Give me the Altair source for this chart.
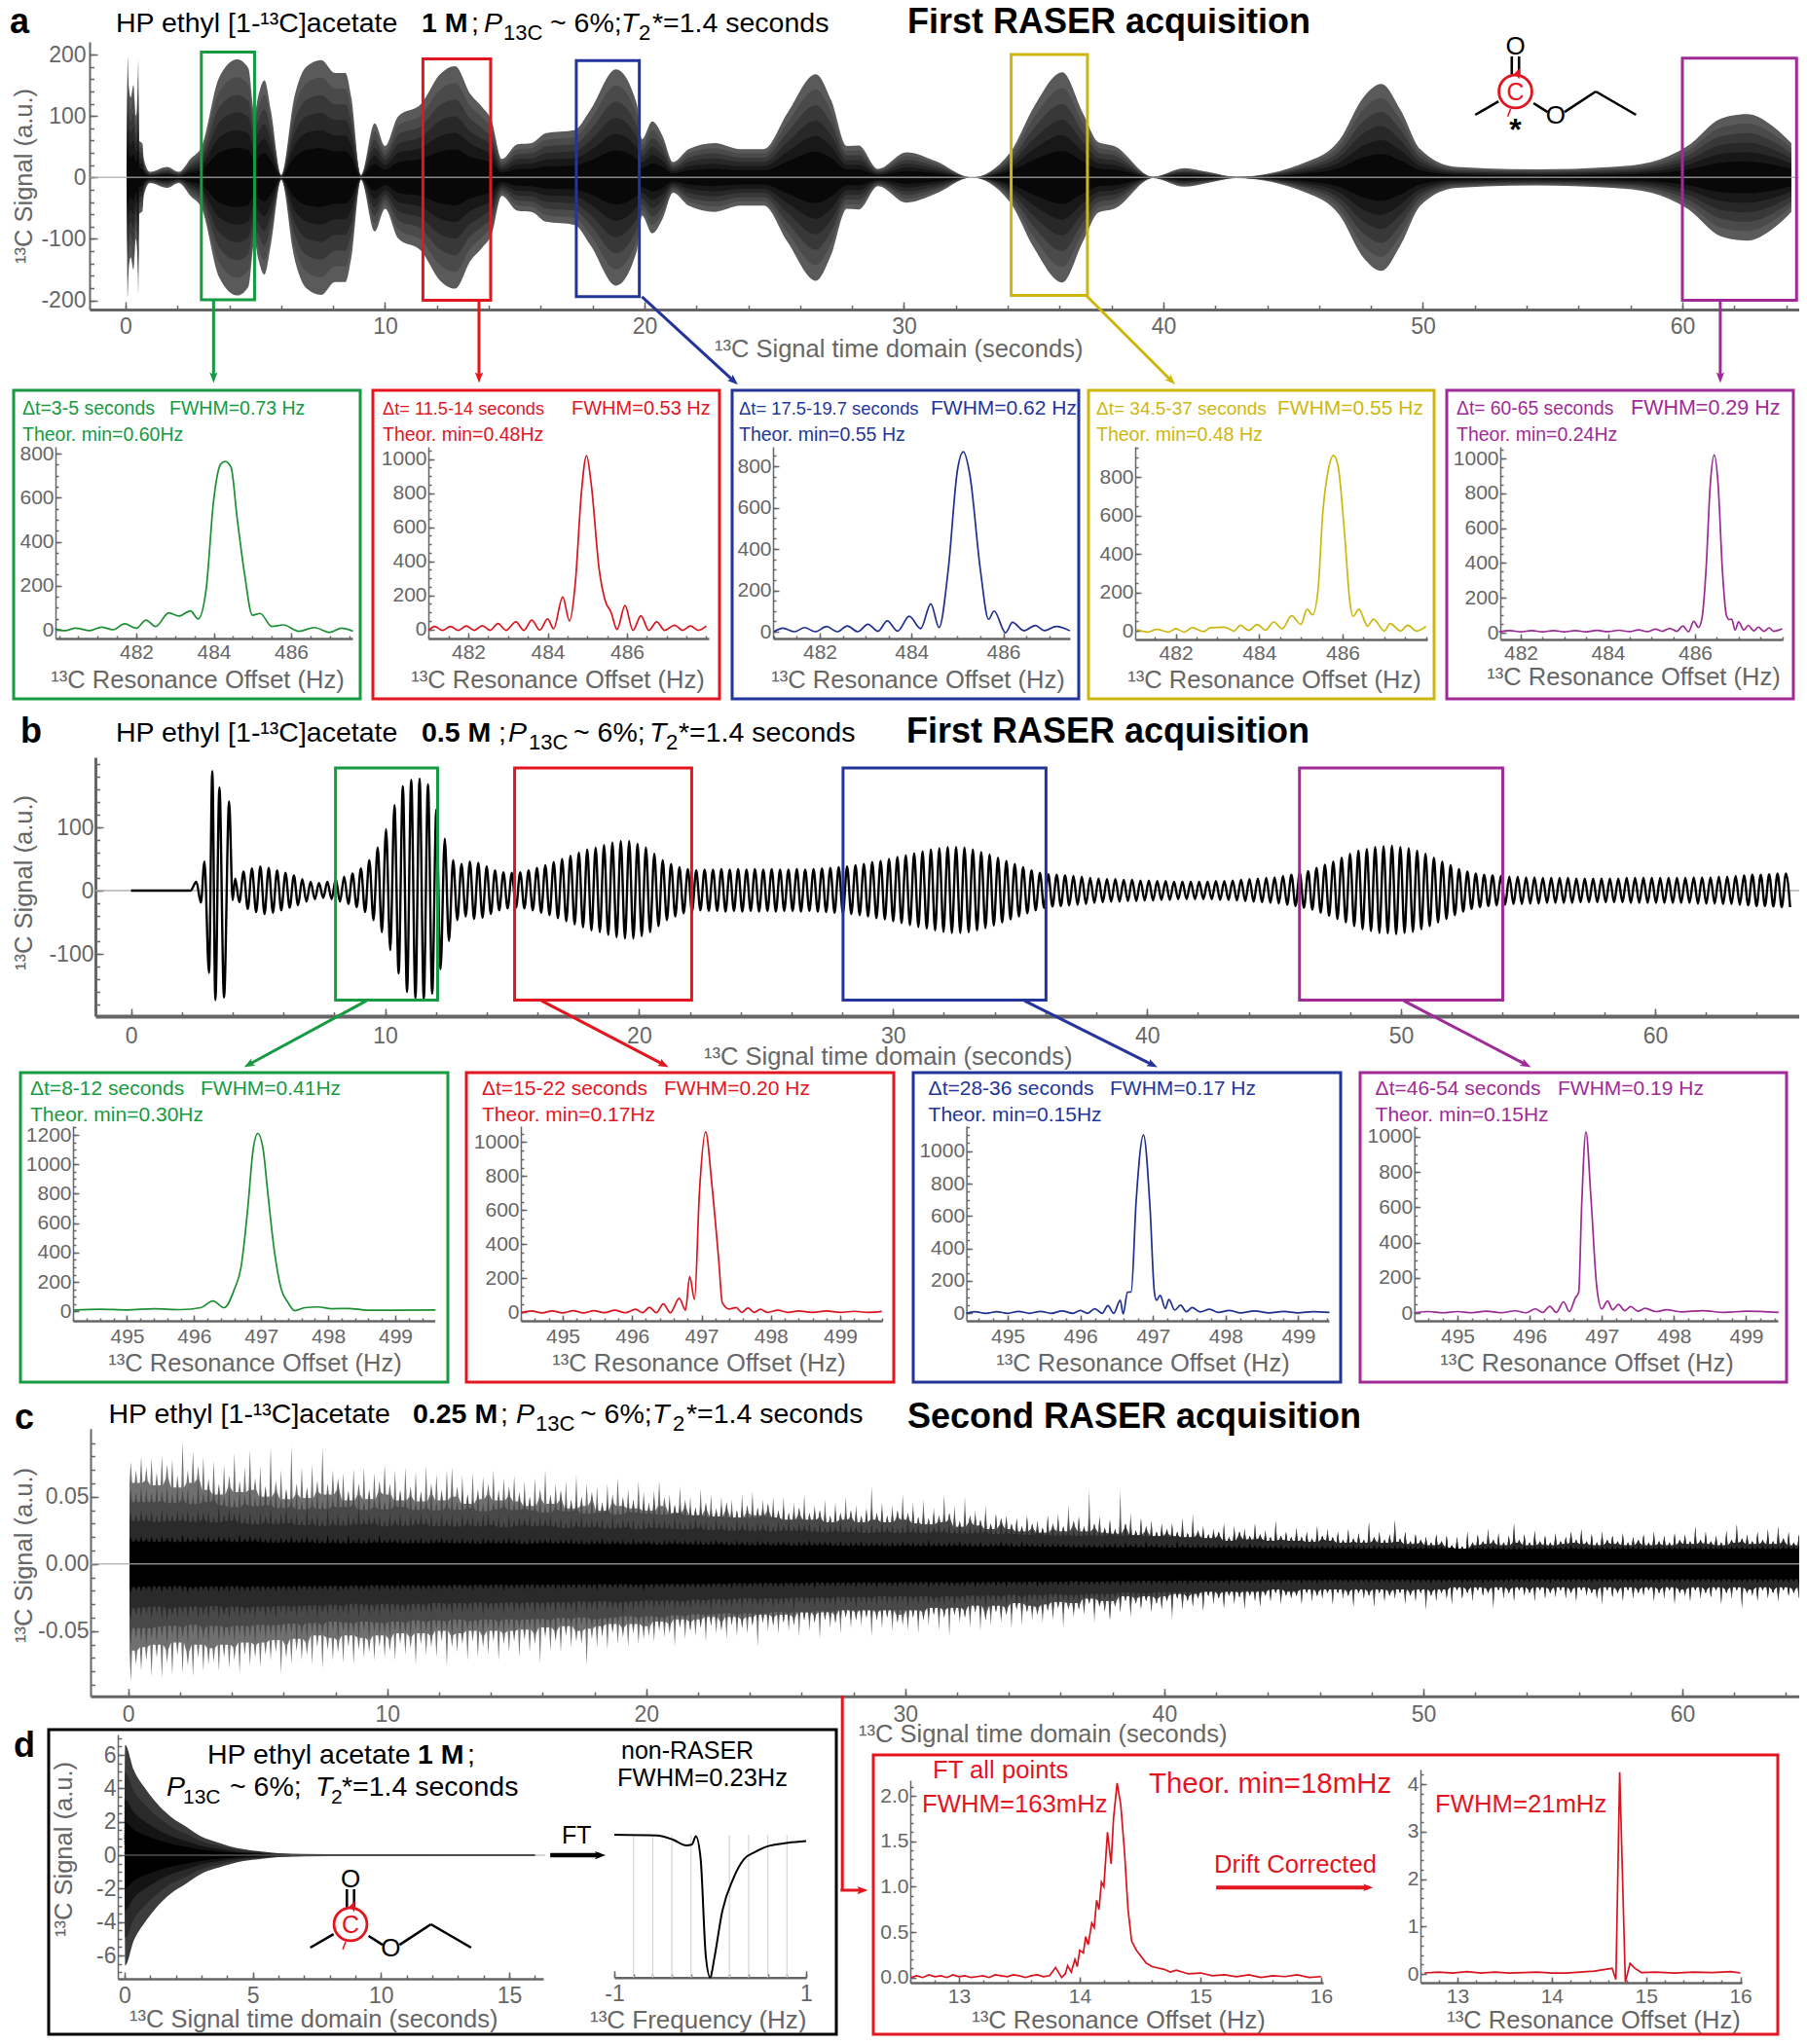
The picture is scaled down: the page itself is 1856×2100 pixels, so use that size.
import math
import altair as alt
import numpy as np
import pandas as pd

W, H, M = 1840, 2084, 8
FONT = "Liberation Sans"
GRAY = "#666666"
GREEN, RED, BLUE, YELLOW, PURPLE = "#169a42", "#e3151f", "#23359a", "#cdb70f", "#a02a98"

# ---------- panel a: envelope of the time-domain signal ----------
a_t = [0.05,0.08,0.12,0.2,0.3,0.4,0.47,0.49,0.52,0.65,0.7,0.94,1.6,2.05,2.5,2.94,3.6,4.3,4.73,4.97,5.1,5.35,5.6,6.0,6.5,6.96,7.54,8.07,8.47,8.7,9.07,9.6,10,10.5,11.4,12.1,12.7,13.3,13.75,14.1,14.5,15.1,15.65,16.2,17.3,17.9,18.9,19.7,19.9,20.3,20.7,21.1,21.7,22.7,23.7,24.6,25.5,26.6,27.2,27.8,28.25,29,30.1,31.2,32.6,34.1,35,36.1,36.9,37.5,38.1,39.6,40.8,41.7,42.8,45.5,46.8,47.7,48.4,49.15,49.9,51.3,54.4,57.3,58.8,60.2,61.5,62.5,63.5,64.2]
a_amp = [0,195,150,130,150,100,150,190,60,55,30,9,17,9,30,51,162,192,178,104,130,158,109,4,130,180,191,170,170,130,4,88,51,99,120,167,181,135,114,93,30,54,56,72,77,109,176,120,62,91,67,25,46,56,46,46,104,168,125,51,52,14,41,27,0,41,114,171,104,57,51,1,15,9,1,25,62,130,152,109,46,17,13,17,25,51,96,103,83,56]
a_boxes = [(2.92,4.97,204,-199,GREEN),(11.46,14.07,193,-200,RED),(17.37,19.8,190,-194,BLUE),(34.13,37.07,200,-192,YELLOW),(60,64.4,194,-200,PURPLE)]

# ---------- panel a insets ----------
ag_hz = [479.9,480.16,480.43,480.8,481.1,481.4,481.7,482,482.25,482.5,482.84,483.1,483.4,483.6,483.8,484,484.18,484.3,484.45,484.6,484.8,485,485.2,485.5,485.8,486.2,486.6,487,487.3,487.6]
ag_v = [4,-4,7,-4,12,0,27,7,44,15,77,62,86,49,177,590,752,764,737,516,250,66,74,15,22,-7,10,-12,7,-7]
ar_hz = [481,481.15,481.35,481.55,481.75,481.95,482.15,482.35,482.55,482.75,482.95,483.2,483.4,483.6,483.8,484,484.15,484.38,484.55,484.7,484.85,484.98,485.1,485.3,485.45,485.6,485.75,485.95,486.15,486.35,486.55,486.75,486.95,487.2,487.4,487.6,487.8,488]
ar_v = [-5,18,-5,18,-5,20,-5,22,-5,35,-5,45,-5,55,-3,62,5,190,50,280,800,1020,850,350,170,100,0,140,-5,80,-5,45,-5,25,-5,20,-5,20]
ab_hz = [481,481.2,481.45,481.67,481.9,482.15,482.38,482.6,482.83,483.05,483.27,483.47,483.7,483.95,484.2,484.42,484.6,484.8,485,485.13,485.27,485.5,485.68,485.8,486.05,486.2,486.45,486.7,486.9,487.15,487.45]
ab_v = [0,17,0,20,0,25,0,28,0,36,2,52,3,75,15,135,20,300,780,870,760,300,60,100,-5,45,5,30,5,25,5]
ay_hz = [481.06,481.33,481.55,481.83,482,482.2,482.4,482.67,482.83,483.17,483.4,483.55,483.75,483.95,484.15,484.35,484.55,484.78,485,485.15,485.28,485.41,485.52,485.67,485.78,485.89,486.05,486.17,486.25,486.39,486.6,486.74,487,487.14,487.39,487.56,487.78,488]
ay_v = [8,-5,8,-5,12,-5,17,-3,17,20,0,30,3,34,5,47,12,79,34,113,84,210,598,850,912,858,497,160,76,113,25,62,0,39,0,30,0,25]
ap_hz = [481.5,481.75,482,482.25,482.5,482.75,483,483.25,483.5,483.75,484,484.25,484.5,484.7,484.9,485.1,485.25,485.42,485.58,485.72,485.85,485.97,486.08,486.16,486.25,486.35,486.44,486.53,486.63,486.72,486.78,486.84,486.92,487,487.12,487.22,487.35,487.45,487.58,487.7,487.8,488]
ap_v = [5,12,5,12,5,12,5,12,5,13,6,14,6,16,6,20,8,25,8,38,5,65,30,84,350,850,1020,850,350,100,75,78,15,62,15,42,10,32,8,28,8,22]

# ---------- panel b: burst then one peak amplitude per cycle ----------
b_head_t = [0,2.2,2.34,2.57,2.75,2.89,3.07,3.2,3.32,3.48,3.66,3.86,4.0]
b_head_v = [0,0,0,14,-19,46,-130,189,-173,163,-169,141,-15]
b_cycle = [19,30,35,38,36,32,28,24,18,14,12,14,18,
           22,27,35,48,68,97,135,165,175,177,168,128,82,
           48,42,46,44,38,32,29,28,29,32,36,40,45,50,55,60,65,68,72,76,78,78,74,68,58,48,42,37,34,32,
           33,33,34,33,34,33,34,33,34,33,33,34,33,34,35,36,
           37,38,40,42,45,47,50,53,56,59,62,65,67,69,
           69,68,65,61,57,52,47,42,37,32,28,
           26,25,24,23,22,20,19,
           18,18,17,17,16,16,15,15,14,14,14,14,
           14,15,15,16,17,18,19,20,21,23,25,28,
           31,36,41,46,52,58,63,66,69,70,71,
           69,67,63,58,52,46,40,34,30,27,
           25,24,23,22,22,21,21,20,20,20,20,19,19,19,19,19,19,20,20,20,20,20,20,20,20,21,21,21,22,22,23,24,25,25,26,27,27]
b_boxes = [(8.05,12.07,GREEN),(15.1,22.07,RED),(28.03,36.02,BLUE),(46,54,PURPLE)]

# ---------- panel b insets ----------
bg_hz = [494.2,494.6,495,495.4,495.8,496.1,496.28,496.45,496.6,496.7,496.8,496.88,496.95,497.03,497.1,497.2,497.3,497.4,497.5,497.65,497.85,498.05,498.3,498.6,499,499.6]
bg_v = [8,15,10,18,12,25,70,25,150,300,700,1100,1210,1100,800,400,150,60,5,25,30,18,20,8,8,10]
br_hz = [494.4,494.55,494.7,494.85,495,495.15,495.3,495.45,495.6,495.75,495.9,496.05,496.15,496.25,496.35,496.45,496.55,496.68,496.77,496.83,496.9,496.97,497.06,497.15,497.25,497.3,497.4,497.5,497.58,497.67,497.76,497.85,497.95,498.1,498.25,498.4,498.6,498.8,499,499.2,499.4,499.6]
br_v = [-3,8,-3,8,-3,10,-3,10,-2,12,-2,18,-2,30,-2,50,-2,82,13,210,76,700,1060,750,300,57,20,28,0,25,0,18,0,12,0,8,0,8,0,6,0,5]
bb_hz = [494.43,494.55,494.7,494.85,495,495.15,495.3,495.45,495.6,495.75,495.9,496,496.1,496.2,496.3,496.38,496.46,496.55,496.59,496.65,496.7,496.77,496.87,496.96,497.02,497.05,497.1,497.17,497.22,497.3,497.38,497.46,497.54,497.65,497.78,497.9,498.05,498.2,498.4,498.6,498.8,499,499.2,499.43]
bb_v = [0,10,0,10,0,12,0,12,0,14,0,18,0,28,0,48,0,80,-4,130,132,700,1100,650,130,80,110,30,85,20,50,10,35,8,25,5,18,3,14,3,12,3,10,5]
bp_hz = [494.4,494.6,494.8,495,495.2,495.4,495.6,495.8,495.95,496.08,496.18,496.28,496.37,496.47,496.55,496.63,496.68,496.72,496.78,496.85,496.93,497,497.08,497.15,497.23,497.32,497.4,497.5,497.6,497.75,497.9,498.1,498.4,498.7,499,499.45]
bp_v = [3,10,3,10,3,12,3,14,3,25,5,40,5,65,10,85,120,600,1027,650,150,25,70,20,50,15,38,12,28,10,20,8,15,5,12,5]

# ---------- panel c: jagged upper and lower edge, in thousandths, one per 0.2 s ----------
c_upper = [76,70,80,72,79,68,81,74,78,66,92,70,84,73,80,64,77,60,74,66,83,62,72,85,64,
73,58,87,62,70,56,88,60,72,57,74,62,87,60,70,64,68,55,71,60,72,56,68,62,74,
60,70,55,72,58,69,54,73,60,67,55,70,72,58,66,52,68,56,65,60,70,55,64,58,66,
54,62,50,64,56,70,52,60,55,62,48,66,50,60,54,58,46,60,52,64,50,56,48,62,54,
46,55,62,50,52,44,58,48,50,42,56,46,52,41,50,46,48,40,52,44,54,42,48,45,50,
40,50,38,46,42,52,38,44,40,48,36,46,38,50,40,44,36,42,58,38,46,36,44,40,52,
38,46,35,48,34,42,36,52,38,44,32,50,36,40,33,44,30,38,34,36,30,34,28,36,30,
32,27,36,30,38,28,44,32,36,28,55,30,36,27,33,26,55,30,38,25,34,28,32,24,30,
26,30,24,34,23,38,25,28,22,26,24,30,20,28,24,26,21,30,22,25,20,32,21,24,20,
27,20,24,19,28,21,26,20,24,18,26,19,23,18,32,20,24,18,22,33,19,24,17,22,18,
20,16,22,17,21,14,20,13,24,16,22,17,26,18,23,16,21,30,18,22,16,25,17,21,16,
23,17,20,24,18,26,17,22,16,24,18,21,17,23,16,20,18,22,16,24,17,21,16,23,18,
22,17,28,18,24,17,21,16,25,18,30,19,22,17,24,18,26,17,28,19,24,16,22,17,19]
c_lower = [88,75,80,72,84,70,85,74,83,68,82,76,84,70,80,75,73,80,70,78,72,82,68,76,70,
77,68,72,66,82,70,75,65,72,68,75,62,78,64,72,66,74,62,75,64,70,66,72,62,70,
65,72,60,68,63,75,60,68,62,70,58,76,62,66,60,72,58,70,62,68,58,72,60,66,58,
70,57,66,60,74,55,65,58,66,54,62,58,60,76,56,62,54,64,52,60,55,62,52,60,56,
54,58,50,55,52,62,48,56,50,54,48,58,46,52,50,56,46,54,48,52,46,62,44,50,46,
52,44,50,46,54,42,50,44,56,42,48,44,52,40,48,42,46,40,54,42,48,40,50,44,46,
50,40,52,42,46,38,50,40,54,38,44,40,48,36,50,42,46,36,44,38,48,34,46,36,42,
38,44,35,42,33,48,34,40,34,38,30,44,32,36,42,32,36,28,40,30,34,28,36,30,34,
28,42,26,34,28,32,26,36,24,30,26,33,24,30,25,34,24,28,32,24,28,22,30,24,26,
24,30,22,28,24,26,22,30,22,26,24,32,22,26,24,32,22,28,24,26,22,30,24,28,22,
35,24,28,22,26,30,20,26,22,28,20,24,22,34,20,26,22,28,20,24,22,28,20,26,22,
25,20,26,22,28,20,24,22,26,30,20,25,22,28,20,26,22,24,20,28,22,26,20,30,22,
24,28,20,26,22,25,20,30,22,26,20,34,22,24,28,20,26,22,28,20,24,22,26,20,30]

# ---------- panel d ----------
d_t = [0.0,0.02,0.36,0.8,1.2,1.8,2.4,3,3.7,4.4,5.2,6,7,9,11,13,16]
d_env = [0,6.6,5.1,4,3.2,2.3,1.7,1.1,0.73,0.42,0.25,0.12,0.07,0.06,0.06,0.05,0.05]
ft_hz = [-1,-0.56,-0.39,-0.25,-0.19,-0.15,-0.1,-0.046,0,0.04,0.126,0.24,0.354,0.469,0.583,0.811,1]
ft_v = [1,0.995,0.966,0.925,0.932,0.989,0.83,0.148,0,0.125,0.466,0.693,0.83,0.88,0.916,0.943,0.955]
ft_grid = [-0.8,-0.6,-0.4,-0.2,0.2,0.4,0.6,0.8]
s1_hz = [12.6,12.65,12.7,12.75,12.8,12.85,12.9,12.95,13,13.05,13.1,13.15,13.2,13.25,13.3,13.35,13.4,13.45,13.5,13.55,13.6,13.65,13.7,13.75,13.8,13.85,13.88,13.9,13.93,13.96,13.98,14.0,14.03,14.05,14.07,14.1,14.12,14.14,14.16,14.18,14.2,14.23,14.26,14.28,14.31,14.34,14.37,14.4,14.43,14.47,14.55,14.6,14.7,14.75,14.8,14.9,15,15.1,15.2,15.3,15.4,15.5,15.6,15.7,15.8,15.9,16]
s1_v = [0,.02,0,.03,.01,.02,0,.03,.01,.02,0,.01,.02,0,.03,.02,.01,.03,.02,0,.02,.03,.01,.02,.11,0,.04,.13,.06,.2,.12,.3,.27,.45,.36,.6,.55,.85,.75,1.05,1.0,1.6,1.25,1.75,2.14,1.9,1.4,.75,.4,.3,.16,.12,.09,.06,.08,.04,.05,.02,.03,.01,.03,.0,.02,.01,.03,.0,.01]
s2_hz = [12.65,12.8,12.95,13.1,13.25,13.4,13.55,13.7,13.85,14,14.15,14.3,14.45,14.55,14.64,14.68,14.72,14.78,14.83,14.88,14.95,15.1,15.3,15.5,15.7,15.9,16]
s2_v = [.02,.04,.02,.05,.02,.04,.02,.03,.04,.02,.02,.04,.06,.09,.12,-.12,4.25,-.17,.22,.12,.03,.04,.02,.04,.03,.05,.02]
mol_bonds = [(-1,-1,-0.42,-0.42),(0.45,-0.5,0.8,-0.88),(1.22,-0.88,2,0),(2,0,3,-1),(-0.09,0.72,-0.09,1.5),(0.09,0.72,0.09,1.5)]

layers = []


def text(s, x, y, size=25, color="black", weight="normal", style="normal", align="left", angle=0):
    kw = dict(text=s, font=FONT, fontSize=size, color=color, fontWeight=weight, fontStyle=style,
              align=align, baseline="alphabetic")
    if angle:
        kw["angle"] = angle
    layers.append(alt.Chart(pd.DataFrame({"k": [0]})).mark_text(**kw).encode(
        x=alt.value(x - M), y=alt.value(y - M)))


class Panel:
    def __init__(self, xcal, xspan, ycal, yspan):
        self.xk = (xcal[3] - xcal[1]) / (xcal[2] - xcal[0])
        self.xv0, self.xp0 = xcal[0], xcal[1]
        self.yk = (ycal[3] - ycal[1]) / (ycal[2] - ycal[0])
        self.yv0, self.yp0 = ycal[0], ycal[1]
        self.xspan, self.yspan = xspan, yspan
        self.xdom = [self.xval(xspan[0]), self.xval(xspan[1])]
        self.ydom = [self.yval(yspan[0]), self.yval(yspan[1])]
        self.sx = alt.Scale(domain=self.xdom, range=[xspan[0] - M, xspan[1] - M], nice=False, zero=False)
        self.sy = alt.Scale(domain=self.ydom, range=[yspan[0] - M, yspan[1] - M], nice=False, zero=False)

    def xval(self, p): return self.xv0 + (p - self.xp0) / self.xk
    def yval(self, p): return self.yv0 + (p - self.yp0) / self.yk
    def xpx(self, v): return self.xp0 + (v - self.xv0) * self.xk
    def ypx(self, v): return self.yp0 + (v - self.yv0) * self.yk

    def X(self, f="x", axis=None): return alt.X(f"{f}:Q", scale=self.sx, axis=axis)
    def Y(self, f="y", axis=None): return alt.Y(f"{f}:Q", scale=self.sy, axis=axis)

    def line(self, xs, ys, color, width=1.6, interp="monotone"):
        df = pd.DataFrame({"x": xs, "y": ys, "o": range(len(xs))})
        layers.append(alt.Chart(df).mark_line(color=color, strokeWidth=width, interpolate=interp)
                      .encode(x=self.X(), y=self.Y(), order="o:Q"))

    def area(self, xs, lo, hi, color, interp="linear"):
        df = pd.DataFrame({"x": xs, "y": lo, "y2": hi})
        layers.append(alt.Chart(df).mark_area(color=color, opacity=1, interpolate=interp)
                      .encode(x=self.X(), y=self.Y(), y2=alt.Y2("y2:Q")))

    def seg(self, x0, y0, x1, y1, color, width=3, opacity=1.0):
        df = pd.DataFrame({"x": [x0], "y": [y0], "x2": [x1], "y2": [y1]})
        layers.append(alt.Chart(df).mark_rule(color=color, strokeWidth=width, opacity=opacity)
                      .encode(x=self.X(), y=self.Y(), x2=alt.X2("x2:Q"), y2=alt.Y2("y2:Q")))

    def rect(self, x0, x1, y0, y1, color, width=3):
        df = pd.DataFrame({"x": [x0], "y": [y0], "x2": [x1], "y2": [y1]})
        layers.append(alt.Chart(df).mark_rect(fillOpacity=0, stroke=color, strokeWidth=width)
                      .encode(x=self.X(), y=self.Y(), x2=alt.X2("x2:Q"), y2=alt.Y2("y2:Q")))

    def arrow(self, x0, y0, x1, y1, color, width=3, head=10):
        px0, py0, px1, py1 = self.xpx(x0), self.ypx(y0), self.xpx(x1), self.ypx(y1)
        d = math.hypot(px1 - px0, py1 - py0)
        ux, uy = (px1 - px0) / d, (py1 - py0) / d
        cx, cy = px1 - ux * head, py1 - uy * head
        self.seg(x0, y0, self.xval(cx), self.yval(cy), color, width)
        ang = (math.degrees(math.atan2(ux, -uy)) + 360) % 360
        df = pd.DataFrame({"x": [self.xval(cx)], "y": [self.yval(cy)]})
        layers.append(alt.Chart(df).mark_point(
            shape="M0,-1L0.75,1L0,0.6L-0.75,1Z", filled=True, color=color, opacity=1,
            size=head * head, angle=ang).encode(x=self.X(), y=self.Y()))

    def axes(self, xt, xm, yt, ym, fs=22, dw=2, xpad=8, ypad=4, fmt="d", majlen=8, minlen=4.5):
        bot = self.yspan[0] - M
        left = self.xspan[0] - M
        common = dict(labelFont=FONT, labelFontSize=fs, labelColor=GRAY, grid=False, title=None,
                      labelOverlap=False, labelBound=False, labelFlush=False,
                      labelExpr="replace(datum.label,'\u2212','-')")
        ax = alt.Axis(orient="bottom", offset=bot - (H), values=xt, ticks=False, domainColor=GRAY,
                      domainWidth=dw, labelPadding=xpad, format="d", **common)
        if yt is None:
            ay = None
        else:
            ay = alt.Axis(orient="left", offset=-left, values=yt, ticks=False, domainColor=GRAY,
                          domainWidth=max(1.5, dw - 1), labelPadding=ypad, format=fmt, **common)
        dummy = pd.DataFrame({"x": [self.xdom[0]], "y": [self.ydom[0]]})
        layers.append(alt.Chart(dummy).mark_point(opacity=0).encode(x=self.X(axis=ax), y=self.Y(axis=ay)))
        for vx, vy, n in ((xt, yt, majlen), (xm, ym, minlen)):
            tick = dict(labels=False, domain=False, title=None, grid=False, tickColor=GRAY, tickWidth=1.5, tickSize=n)
            tx = alt.Axis(orient="top", offset=-bot, values=vx, **tick)
            ty = None if (yt is None) else alt.Axis(orient="right", offset=left - W, values=vy, **tick)
            layers.append(alt.Chart(dummy).mark_point(opacity=0).encode(x=self.X(axis=tx), y=self.Y(axis=ty)))


def frange(a, b, s):
    n = int(round((b - a) / s))
    return [round(a + i * s, 4) for i in range(n + 1)]


def molecule(cx, cy, star=False):
    p = Panel((0, cx, 1, cx + 41.3), (cx - 80, cx + 160), (0, cy, 1, cy - 24), (cy + 50, cy - 70))
    for b in mol_bonds:
        p.seg(b[0], b[1], b[2], b[3], "black", 2.6)
    for (x, y) in ((0, 1.95), (1, -1)):
        text("O", p.xpx(x), p.ypx(y) + 9, 26, "black", align="center")
    df = pd.DataFrame({"x": [0], "y": [0]})
    layers.append(alt.Chart(df).mark_point(shape="circle", size=1150, color=RED, strokeWidth=2.8, filled=False, opacity=1)
                  .encode(x=p.X(), y=p.Y()))
    text("C", cx, cy + 9, 25, RED, align="center")
    p.seg(-0.19, -1.07, -0.12, -0.75, RED, 1.6)
    p.arrow(0.06, 0.8, 0.17, 1.22, RED, 1.6, 11)
    if star:
        text("*", cx, cy + 50, 32, "black", "bold", align="center")


def title_row(letter, lx, ly, y, segs, sub_y, heading, hx, hy):
    text(letter, lx, ly, 36, "black", "bold")
    for (s, x, kind) in segs:
        if kind == "n":
            text(s, x, y, 28.5)
        elif kind == "b":
            text(s, x, y, 28.5, weight="bold")
        elif kind == "i":
            text(s, x, y, 28.5, style="italic")
        else:
            text(s, x, sub_y, 22)
    text(heading, hx, hy, 36, "black", "bold")


def spikes(ts, vals):
    # each read value becomes a narrow spike standing on the lower of its neighbours
    out_t, out_v = [], []
    for i, v in enumerate(vals):
        near = min(vals[max(i - 1, 0)], vals[min(i + 1, len(vals) - 1)], v)
        out_t += [ts[i] - 0.05, ts[i], ts[i] + 0.05]
        out_v += [near * 0.86, v, near * 0.86]
    return out_t, out_v


YT = "\u00b9\u00b3C Signal (a.u.)"
TD = "\u00b9\u00b3C Signal time domain (seconds)"
RO = "\u00b9\u00b3C Resonance Offset (Hz)"

# ================= PANEL A =================
title_row("a", 10, 34, 33,
          [("HP ethyl [1-\u00b9\u00b3C]acetate", 119, "n"), ("1 M", 433, "b"), (";", 484, "n"), ("P", 497, "i"), ("13C", 517, "s"),
           ("~ 6%;", 565, "n"), ("T", 638, "i"), ("2", 656, "s"), ("*=1.4 seconds", 670, "n")], 41,
          "First RASER acquisition", 932, 34)
pa = Panel((0, 129, 60, 1728), (92, 1856), (0, 182.3, 200, 56), (318, 43))
a_arr = np.array(a_amp, float)
for frac, col in ((1.0, "#5a5a5a"), (0.85, "#4a4a4a"), (0.7, "#383838"), (0.55, "#282828"), (0.4, "#181818"), (0.25, "#080808")):
    pa.area(a_t, list(-a_arr * frac), list(a_arr * frac), col, "monotone")
pa.seg(pa.xdom[0], 0, pa.xdom[1], 0, "#aaaaaa", 1.5, 0.8)
pa.axes(frange(0, 60, 10), frange(0, 64, 2), frange(-200, 200, 100), frange(-200, 200, 20), fs=23, dw=3, xpad=6)
for (x0, x1, y0, y1, c) in a_boxes:
    pa.rect(x0, x1, y0, y1, c, 3)
ya = pa.yval(399)
pa.arrow(3.39, -199, 3.39, ya, GREEN, 3, 11)
pa.arrow(13.62, -200, 13.62, ya, RED, 3, 11)
pa.arrow(19.9, -194, 23.75, ya, BLUE, 3, 11)
pa.arrow(37.02, -192, 40.6, ya, YELLOW, 3, 11)
pa.arrow(61.46, -200, 61.46, ya, PURPLE, 3, 11)
text(YT, 33, 181, 25.5, GRAY, align="center", angle=270)
text(TD, 734, 367, 25.5, GRAY)
molecule(1556.5, 94, star=True)

a_ins = [
    (GREEN, "#1c8f34", 14, 370, (482, 140, 486, 299), (57, 362), (0, 647, 800, 466), (656, 459), [0, 200, 400, 600, 800], ag_hz, ag_v,
     "\u0394t=3-5 seconds", 23, 19.5, "FWHM=0.73 Hz", 174, 19.5, "Theor. min=0.60Hz", 203, 707),
    (RED, "#d8141f", 383, 739, (482, 481, 486, 644), (440, 728), (0, 646.7, 1000, 471.7), (656, 459), [0, 200, 400, 600, 800, 1000], ar_hz, ar_v,
     "\u0394t= 11.5-14 seconds", 393, 18.2, "FWHM=0.53 Hz", 587, 20, "Theor. min=0.48Hz", 573, 707),
    (BLUE, "#1f2f8e", 752, 1108, (482, 842, 486, 1030.5), (794, 1099), (0, 649, 800, 479), (656, 459), [0, 200, 400, 600, 800], ab_hz, ab_v,
     "\u0394t= 17.5-19.7 seconds", 759, 18.4, "FWHM=0.62 Hz", 956, 21, "Theor. min=0.55 Hz", 943, 707),
    (YELLOW, "#cdb70f", 1118, 1473, (482, 1207.6, 486, 1379), (1166, 1466), (0, 648.3, 800, 490), (657, 459), [0, 200, 400, 600, 800], ay_hz, ay_v,
     "\u0394t= 34.5-37 seconds", 1126, 19, "FWHM=0.55 Hz", 1312, 21, "Theor. min=0.48 Hz", 1309, 707),
    (PURPLE, "#9b2a93", 1486, 1842, (482, 1562, 486, 1741), (1541, 1831), (0, 650, 1000, 471), (657, 459), [0, 200, 400, 600, 800, 1000], ap_hz, ap_v,
     "\u0394t= 60-65 seconds", 1496, 19.3, "FWHM=0.29 Hz", 1675, 21.5, "Theor. min=0.24Hz", 1678, 704),
]
for (bc, lc, bx0, bx1, xc, xs, yc, ys, yt, hz, v, t1, t1x, t1s, t2, t2x, t2s, t3, lx, ly) in a_ins:
    frame = Panel((0, bx0, 1, bx1), (bx0, bx1), (0, 718, 1, 401), (718, 401))
    frame.rect(0, 1, 0, 1, bc, 3)
    p = Panel(xc, xs, yc, ys)
    p.axes([482, 484, 486], [v_ for v_ in frange(480, 488, 0.5) if p.xdom[0] <= v_ <= p.xdom[1]],
           yt, [v_ for v_ in frange(0, 1050, 50) if v_ <= p.ydom[1]], fs=21, dw=2.5, xpad=3, ypad=2, majlen=6, minlen=3)
    p.line(hz, v, lc, 1.7)
    text(t1, t1x, 426, t1s, bc)
    text(t2, t2x, 426, t2s, bc)
    text(t3, t1x, 453, 19.5, bc)
    text(RO, lx, ly, 25.5, GRAY, align="center")

# ================= PANEL B =================
title_row("b", 21, 763, 762,
          [("HP ethyl [1-\u00b9\u00b3C]acetate", 119, "n"), ("0.5 M", 433, "b"), (";", 512, "n"), ("P", 522, "i"), ("13C", 543, "s"),
           ("~ 6%;", 589, "n"), ("T", 667, "i"), ("2", 684, "s"), ("*=1.4 seconds", 697, "n")], 770,
          "First RASER acquisition", 931, 763)
pb = Panel((0, 134.6, 60, 1700), (98, 1856), (0, 915, 100, 850), (1044, 778))
pb.seg(pb.xdom[0], 0, pb.xdom[1], 0, "#aaaaaa", 1.5, 0.9)
bt, bv = list(b_head_t), list(b_head_v)
t_i = 4.1
for amp in b_cycle:
    bt += [round(t_i, 3), round(t_i + 0.165, 3)]
    bv += [amp, -amp * 0.97]
    t_i += 0.33
pb.line(bt, bv, "black", 2.4)
pb.axes(frange(0, 60, 10), frange(0, 64, 2), [-100, 0, 100], frange(-180, 200, 20), fs=23, dw=4, xpad=9, ypad=2)
for (x0, x1, c) in b_boxes:
    pb.rect(x0, x1, 194, -173, c, 3)
yb = pb.yval(1099)
pb.arrow(9.27, -174, 4.26, yb, GREEN, 3, 11)
pb.arrow(16.16, -174, 21.35, yb, RED, 3, 11)
pb.arrow(35.17, -174, 40.6, yb, BLUE, 3, 11)
pb.arrow(50.1, -174, 55.3, yb, PURPLE, 3, 11)
text(YT, 33, 907, 25.5, GRAY, align="center", angle=270)
text(TD, 723, 1094, 25.5, GRAY)

b_ins = [
    (GREEN, "#1c8f34", 21, 460, (495, 130.5, 499, 406), (75, 446.6), (0, 1347.3, 1200, 1166), [0, 200, 400, 600, 800, 1000, 1200], bg_hz, bg_v,
     "\u0394t=8-12 seconds", 31, "FWHM=0.41Hz", 206, "Theor. min=0.30Hz", 262),
    (RED, "#d8141f", 479, 918, (495, 578, 499, 863), (535, 906), (0, 1348.3, 1000, 1173.3), [0, 200, 400, 600, 800, 1000], br_hz, br_v,
     "\u0394t=15-22 seconds", 495, "FWHM=0.20 Hz", 682, "Theor. min=0.17Hz", 718),
    (BLUE, "#1f2f8e", 938, 1377, (495, 1035, 499, 1333.4), (992.6, 1365), (0, 1349.3, 1000, 1182.7), [0, 200, 400, 600, 800, 1000], bb_hz, bb_v,
     "\u0394t=28-36 seconds", 953.6, "FWHM=0.17 Hz", 1140, "Theor. min=0.15Hz", 1174),
    (PURPLE, "#9b2a93", 1397, 1835, (495, 1497, 499, 1793.5), (1452.7, 1826), (0, 1349.3, 1000, 1167.7), [0, 200, 400, 600, 800, 1000], bp_hz, bp_v,
     "\u0394t=46-54 seconds", 1412.6, "FWHM=0.19 Hz", 1600, "Theor. min=0.15Hz", 1630),
]
for (bc, lc, bx0, bx1, xc, xs, yc, yt, hz, v, t1, t1x, t2, t2x, t3, lx) in b_ins:
    frame = Panel((0, bx0, 1, bx1), (bx0, bx1), (0, 1420, 1, 1102), (1420, 1102))
    frame.rect(0, 1, 0, 1, bc, 3)
    p = Panel(xc, xs, yc, (1357, 1157))
    p.axes([495, 496, 497, 498, 499], [v_ for v_ in frange(494, 500, 0.2) if p.xdom[0] <= v_ <= p.xdom[1]],
           yt, [v_ for v_ in frange(0, 1250, 50) if v_ <= p.ydom[1]], fs=21, dw=2.5, xpad=5, ypad=2, majlen=6, minlen=3)
    p.line(hz, v, lc, 1.7)
    text(t1, t1x, 1125, 21, bc)
    text(t2, t2x, 1125, 21, bc)
    text(t3, t1x, 1152, 21, bc)
    text(RO, lx, 1409, 25.5, GRAY, align="center")

# ================= PANEL C =================
title_row("c", 15, 1468, 1462,
          [("HP ethyl [1-\u00b9\u00b3C]acetate", 111.5, "n"), ("0.25 M", 424, "b"), (";", 514, "n"), ("P", 530, "i"), ("13C", 550, "s"),
           ("~ 6%;", 596, "n"), ("T", 670, "i"), ("2", 691, "s"), ("*=1.4 seconds", 705, "n")], 1470,
          "Second RASER acquisition", 932, 1467)
pc = Panel((0, 131.7, 60, 1728), (93, 1856), (0, 1606.7, 0.05, 1537.7), (1742.7, 1467.7))
c_t = [round(0.1 + 0.2 * i, 2) for i in range(len(c_upper))]
cu, cl = np.array(c_upper, float) / 1000, np.array(c_lower, float) / 1000


def edge(vals, base, k, roll):
    shifted = np.roll(vals, roll)
    shifted[:roll] = vals[:roll]
    return list(np.minimum(vals, base + k * shifted))


def c_layer(up, low, col):
    tu, vu = spikes(c_t, list(up))
    _, vl = spikes(c_t, list(low))
    pc.area(tu, [-v for v in vl], vu, col)


c_layer(cu, cl, "#707070")
for (base, k, roll, col) in ((0.022, 0.45, 3, "#484848"), (0.016, 0.3, 7, "#2a2a2a"), (0.011, 0.12, 11, "#000000")):
    c_layer(edge(cu, base, k, roll), edge(cl, base, k, roll), col)
pc.seg(pc.xdom[0], 0, pc.xdom[1], 0, "#aaaaaa", 1.5, 0.8)
pc.axes(frange(0, 60, 10), frange(0, 64, 2), [-0.05, 0, 0.05], frange(-0.09, 0.09, 0.01), fs=23, dw=3, fmt=".2f", xpad=8, ypad=2)
text(YT, 33, 1598, 25.5, GRAY, align="center", angle=270)
text(TD, 882, 1790, 25.5, GRAY)
pc.seg(27.57, pc.yval(1742), 27.57, pc.yval(1942), RED, 3)
pc.arrow(27.5, pc.yval(1942), pc.xval(897), pc.yval(1942), RED, 3, 11)

# ================= PANEL D =================
frame_d = Panel((0, 50, 1, 859), (50, 859), (0, 2090, 1, 1777), (2090, 1777))
frame_d.rect(0, 1, 0, 1, "black", 3)
text("d", 14, 1805, 36, "black", "bold")
text("HP ethyl acetate", 213, 1812, 28.5)
text("1 M", 429, 1812, 28.5, weight="bold")
text(";", 480, 1812, 28.5)
text("P", 171, 1845, 28.5, style="italic")
text("13C", 188, 1853, 21)
text("~ 6%;", 236, 1845, 28.5)
text("T", 324, 1845, 28.5, style="italic")
text("2", 340, 1853, 21)
text("*=1.4 seconds", 351, 1845, 28.5)
text("non-RASER", 638, 1807, 25)
text("FWHM=0.23Hz", 634, 1835, 25.5)
text("FT", 577, 1894, 25)

pd1 = Panel((0, 128, 15, 523), (121, 558), (0, 1906, 6, 1803), (2033, 1782))
d_arr = np.array(d_env)
for frac, col in ((1.0, "#3c3c3c"), (0.75, "#2a2a2a"), (0.5, "#141414"), (0.3, "#000000")):
    pd1.area(d_t, list(-d_arr * frac), list(d_arr * frac), col, "monotone")
pd1.seg(0, 0, 16.4, 0, "#999999", 1.2, 0.8)
pd1.axes([0, 5, 10, 15], frange(0, 16, 1), frange(-6, 6, 2), frange(-7, 7, 0.5), fs=23, dw=2.5, xpad=6, ypad=2, majlen=7, minlen=4)
pd1.arrow(16.6, 0, 18.97, 0, "black", 4.5, 11)
text(YT, 74, 1900, 25.5, GRAY, align="center", angle=270)
text(TD, 133, 2083, 25.5, GRAY)
molecule(360, 1977)

pft = Panel((-1, 631, 1, 828), (631, 828), (0, 2031.7, 1, 1885), (2031.7, 1885))
for g in ft_grid:
    pft.seg(g, 0, g, 1, "#d6d6d6", 1.2)
pft.axes([-1, 0, 1], frange(-1, 1, 0.2), None, None, fs=23, dw=2.5, xpad=6, majlen=7, minlen=4)
pft.line(ft_hz, ft_v, "black", 2)
text("\u00b9\u00b3C Frequency (Hz)", 606, 2084, 26, GRAY)

# ================= RED BOX, DRIFT =================
frame_r = Panel((0, 897, 1, 1826), (897, 1826), (0, 2090, 1, 1803), (2090, 1803))
frame_r.rect(0, 1, 0, 1, RED, 3)
ps1 = Panel((13, 985, 16, 1357), (935, 1359), (0, 2031.7, 2, 1845), (2037, 1829))
ps1.axes([13, 14, 15, 16], [v for v in frange(12.6, 16, 0.2)], [0, .5, 1, 1.5, 2], frange(0, 2.1, 0.1), fs=21, dw=2.5, fmt=".1f", xpad=3, ypad=2, majlen=6, minlen=3)
ps1.line(s1_hz, s1_v, "#d8141f", 1.7, "linear")
ps1.arrow(15.13, 0.99, 16.47, 0.99, RED, 4, 10)
ps2 = Panel((13, 1497, 16, 1787.6), (1459, 1789), (0, 2028, 4, 1833), (2037, 1818))
ps2.axes([13, 14, 15, 16], frange(12.6, 16, 0.2), [0, 1, 2, 3, 4], frange(0, 4.2, 0.2), fs=21, dw=2.5, xpad=3, ypad=2, majlen=6, minlen=3)
ps2.line(s2_hz, s2_v, "#d8141f", 1.7, "linear")
text("FT all points", 958, 1827, 25.7, RED)
text("FWHM=163mHz", 947, 1862, 25.7, RED)
text("Theor. min=18mHz", 1180, 1842, 29.4, RED)
text("FWHM=21mHz", 1474, 1862, 25.7, RED)
text("Drift Corrected", 1247, 1924, 25.7, RED)
text(RO, 1149, 2084, 25.5, GRAY, align="center")
text(RO, 1637, 2084, 25.5, GRAY, align="center")

chart = alt.layer(*layers).resolve_scale(x="independent", y="independent").properties(
    width=W, height=H, autosize=alt.AutoSizeParams(type="none"), padding=0
).configure_view(stroke=None)
chart.save("out.html", embed_options={"renderer": "svg", "actions": False})
